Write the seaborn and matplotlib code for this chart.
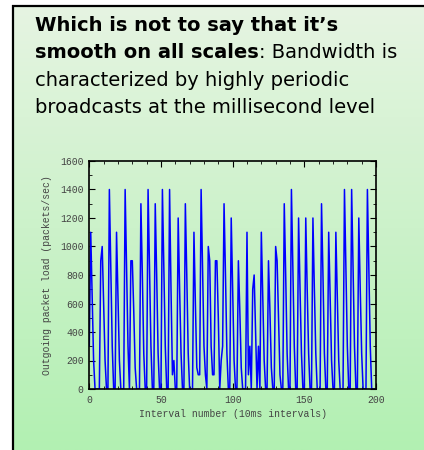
import numpy as np
import pandas as pd
import seaborn as sns
import matplotlib.pyplot as plt
from matplotlib.ticker import MultipleLocator

# Outgoing packet load per 10ms interval
interval = list(range(0, 201))
load = [
    300, 1100, 650, 200, 0, 0, 0, 0, 900, 1000,      # 0-9
    600, 200, 0, 0, 1400, 850, 300, 0, 0, 1100,      # 10-19
    650, 200, 0, 0, 0, 1400, 850, 300, 0, 900,       # 20-29
    900, 550, 150, 0, 0, 0, 1300, 800, 250, 0,       # 30-39
    0, 1400, 850, 300, 0, 0, 1300, 800, 250, 0,      # 40-49
    0, 1400, 850, 300, 0, 0, 1400, 700, 100, 200,    # 50-59
    0, 0, 1200, 700, 250, 0, 0, 1300, 800, 250,      # 60-69
    0, 0, 0, 1100, 600, 150, 100, 100, 1400, 850,    # 70-79
    300, 100, 0, 1000, 900, 300, 100, 100, 900, 900, # 80-89
    500, 0, 200, 300, 1300, 800, 250, 0, 0, 1200,    # 90-99
    700, 200, 0, 0, 900, 550, 150, 0, 0, 0,          # 100-109
    1100, 100, 300, 0, 700, 800, 400, 0, 300, 0,     # 110-119
    1100, 650, 200, 0, 0, 900, 550, 150, 0, 0,       # 120-129
    1000, 900, 500, 100, 0, 0, 1300, 800, 250, 0,    # 130-139
    0, 1400, 850, 300, 0, 0, 1200, 700, 250, 0,      # 140-149
    0, 1200, 700, 250, 0, 0, 1200, 700, 250, 0,      # 150-159
    0, 0, 1300, 800, 250, 0, 0, 1100, 650, 200,      # 160-169
    0, 0, 1100, 650, 200, 0, 0, 0, 1400, 850,        # 170-179
    300, 0, 0, 1400, 850, 300, 0, 0, 1200, 700,      # 180-189
    250, 0, 0, 0, 1400, 850, 300, 0, 0, 0,           # 190-199
    0,                                               # 200
]

x_ticks = [0, 50, 100, 150, 200]
y_ticks = [0, 200, 400, 600, 800, 1000, 1200, 1400, 1600]

sns.set_style("ticks")
plt.rcParams['font.family'] = ['DejaVu Sans']

fig = plt.figure(figsize=(4.24, 4.5), dpi=100)

# slide background: white margin, black frame, green gradient
bg = fig.add_axes([0, 0, 1, 1], zorder=-1)
bg.set_xlim(0, 424)
bg.set_ylim(450, 0)
bg.axis('off')
top = np.array([230, 244, 226]) / 255
bottom = np.array([178, 240, 178]) / 255
t = np.linspace(0, 1, 256)[:, None]
grad = (top[None, :] * (1 - t) + bottom[None, :] * t)[:, None, :]
bg.imshow(grad, extent=(13, 424, 450, 6), aspect='auto', interpolation='bilinear')
bg.plot([12.5, 12.5], [5, 450], color='black', lw=1.6, solid_capstyle='butt')
bg.plot([12, 424], [5.5, 5.5], color='black', lw=1.6, solid_capstyle='butt')

# heading text
fs = 14
bg.text(35, 31, "Which is not to say that it\u2019s", fontsize=fs, fontweight='bold',
        color='black', va='baseline', ha='left')
t1 = bg.text(35, 58, "smooth on all scales", fontsize=fs, fontweight='bold',
             color='black', va='baseline', ha='left')
bg.annotate(": Bandwidth is", xy=(1, 0), xycoords=t1, fontsize=fs, color='black',
            va='bottom', ha='left')
bg.text(35, 86, "characterized by highly periodic", fontsize=fs, color='black',
        va='baseline', ha='left')
bg.text(35, 113, "broadcasts at the millisecond level", fontsize=fs, color='black',
        va='baseline', ha='left')

# chart
df = pd.DataFrame({'interval': interval, 'load': load})
ax = fig.add_axes([89.3 / 424, (450 - 389) / 450, 286.7 / 424, 228 / 450])
ax.set_facecolor('none')
sns.lineplot(data=df, x='interval', y='load', ax=ax, color='#0000ff', linewidth=1.1)

ax.set_xlim(0, 200)
ax.set_ylim(0, 1600)
ax.set_xticks(x_ticks)
ax.set_yticks(y_ticks)
ax.xaxis.set_minor_locator(MultipleLocator(10))
ax.yaxis.set_minor_locator(MultipleLocator(100))
ax.tick_params(which='both', direction='in', top=True, right=True, color='black')
ax.tick_params(which='major', length=4, width=0.8, labelsize=7, labelcolor='#444444', pad=4)
ax.tick_params(which='minor', length=2, width=0.6)
for lab in ax.get_xticklabels() + ax.get_yticklabels():
    lab.set_family('Liberation Mono')
for sp in ax.spines.values():
    sp.set_color('black')
    sp.set_linewidth(1.2)

ax.set_xlabel('Interval number (10ms intervals)', family='Liberation Mono', fontsize=7,
              color='#444444', labelpad=3)
ax.set_ylabel('Outgoing packet load (packets/sec)', family='Liberation Mono', fontsize=7,
              color='#444444', labelpad=6)

fig.savefig('out.png', dpi=100)
